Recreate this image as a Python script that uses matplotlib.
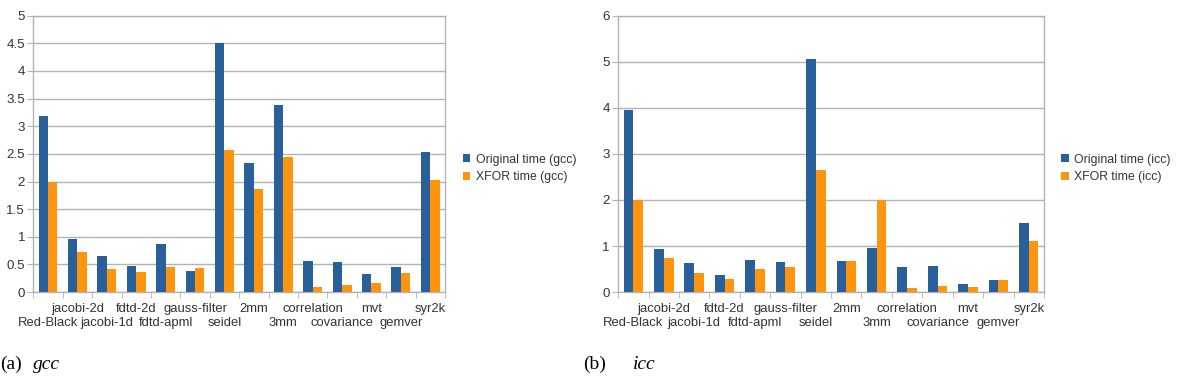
import numpy as np
import matplotlib
matplotlib.use("Agg")
import matplotlib.pyplot as plt

#=====================data===============
benchmarks = ["Red-Black", "jacobi-2d", "jacobi-1d", "fdtd-2d", "fdtd-apml",
              "gauss-filter", "seidel", "2mm", "3mm", "correlation",
              "covariance", "mvt", "gemver", "syr2k"]

orig_gcc = [3.19, 0.96, 0.65, 0.48, 0.87, 0.39, 4.50, 2.33, 3.39, 0.56, 0.55, 0.33, 0.46, 2.54]
xfor_gcc = [2.00, 0.72, 0.41, 0.36, 0.45, 0.43, 2.57, 1.87, 2.45, 0.10, 0.12, 0.16, 0.35, 2.02]

orig_icc = [3.95, 0.94, 0.63, 0.37, 0.70, 0.65, 5.05, 0.67, 0.96, 0.55, 0.57, 0.17, 0.26, 1.51]
xfor_icc = [2.00, 0.73, 0.41, 0.28, 0.50, 0.54, 2.66, 0.67, 2.01, 0.09, 0.13, 0.12, 0.26, 1.11]

#=====================style===============
blue = "#2a6099"
orange = "#ff950e"
grid_col = "#b3b3b3"
txt_col = "#333333"
plt.rcParams['font.family'] = ['Liberation Sans', 'DejaVu Sans']

fig = plt.figure(figsize=(11.87, 3.8), dpi=100)


def draw_panel(rect, orig, xfor, ymax, ystep, comp, leg_xy):
    ax = fig.add_axes(rect)
    x = np.arange(len(benchmarks))
    w = 0.32
    ax.bar(x - w / 2, orig, width=w, color=blue, label="Original time (" + comp + ")", zorder=3)
    ax.bar(x + w / 2, xfor, width=w, color=orange, label="XFOR time (" + comp + ")", zorder=3)
    ax.set_xlim(-0.5, len(benchmarks) - 0.5)
    ax.set_ylim(0, ymax)
    yt = np.arange(0, ymax + ystep / 2, ystep)
    ax.set_yticks(yt)
    ax.set_yticklabels(["%g" % v for v in yt], fontsize=9.6, color=txt_col)
    ax.yaxis.grid(True, color=grid_col, linewidth=1.0, zorder=0)
    ax.set_xticks(x)
    ax.set_xticklabels([])
    ax.set_xticks(np.arange(-0.5, len(benchmarks)), minor=True)
    ax.tick_params(axis='x', which='major', length=0)
    ax.tick_params(axis='x', which='minor', length=4, color=grid_col)
    ax.tick_params(axis='y', length=4, color=grid_col, pad=2)
    for s in ax.spines.values():
        s.set_color(grid_col)
        s.set_linewidth(1.0)
    # staggered category labels, LibreOffice style
    tr = ax.get_xaxis_transform()
    for i, b in enumerate(benchmarks):
        yy = -0.112 if i % 2 == 0 else -0.062
        ax.text(x[i], yy, b, transform=tr, ha='center', va='center',
                fontsize=9.4, color=txt_col)
    fig.legend(*ax.get_legend_handles_labels(), loc='center left',
               bbox_to_anchor=leg_xy, frameon=False, fontsize=8.8,
               handlelength=0.6, handleheight=0.6, handletextpad=0.45,
               labelspacing=0.45, labelcolor=txt_col, borderaxespad=0)
    return ax


draw_panel([0.0281, 0.2313, 0.3468, 0.7274], orig_gcc, xfor_gcc, 5, 0.5, "gcc", (0.386, 0.557))
draw_panel([0.5208, 0.2313, 0.3587, 0.7274], orig_icc, xfor_icc, 6, 1, "icc", (0.890, 0.557))

# sub-figure captions
cap = dict(fontsize=14, family='Liberation Serif', va='center')
fig.text(0.0, 0.04, "(a)", **cap)
fig.text(0.028, 0.04, "gcc", style='italic', **cap)
fig.text(0.491, 0.04, "(b)", **cap)
fig.text(0.533, 0.04, "icc", style='italic', **cap)

plt.savefig("out.png", dpi=100)
